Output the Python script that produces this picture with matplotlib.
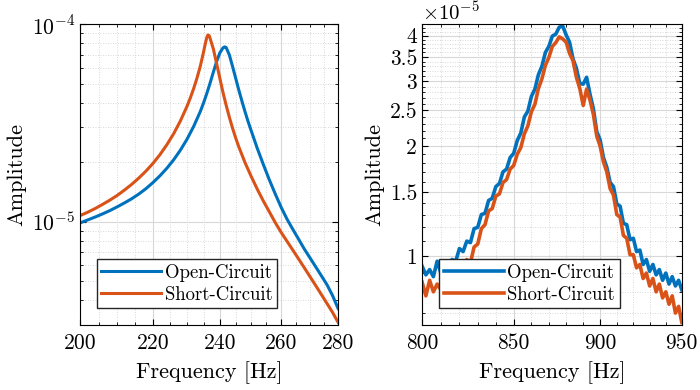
import numpy as np
import matplotlib
matplotlib.use('Agg')
import matplotlib.pyplot as plt
from matplotlib.ticker import FixedLocator, FuncFormatter, NullFormatter

plt.rcParams['font.family'] = 'serif'
plt.rcParams['font.serif'] = ['cmr10']
plt.rcParams['mathtext.fontset'] = 'cm'
plt.rcParams['axes.formatter.use_mathtext'] = True

# Left: first mode, log10(amplitude) vs frequency
freq_oc_1 = [200, 202, 204, 206, 208, 210, 212, 214, 216, 218, 220, 222, 224, 226, 228, 230,
             232, 234, 235, 236, 237, 238, 239, 240, 241, 241.5, 242, 243, 244, 245, 246, 247,
             248, 249, 250, 252, 254, 256, 258, 260, 262, 264, 266, 268, 270, 272, 274, 276,
             278, 280]
log_amp_oc_1 = [-5.007, -4.992, -4.977, -4.961, -4.944, -4.925, -4.905, -4.884, -4.860, -4.833,
                -4.802, -4.768, -4.730, -4.687, -4.638, -4.582, -4.517, -4.442, -4.398, -4.350,
                -4.298, -4.243, -4.190, -4.146, -4.120, -4.115, -4.118, -4.155, -4.212, -4.272,
                -4.332, -4.388, -4.442, -4.492, -4.538, -4.628, -4.710, -4.788, -4.860, -4.928,
                -4.988, -5.040, -5.090, -5.140, -5.185, -5.230, -5.275, -5.320, -5.375, -5.440]
freq_sc_1 = [200, 202, 204, 206, 208, 210, 212, 214, 216, 218, 220, 222, 224, 226, 228, 230,
             231, 232, 233, 234, 235, 235.5, 236, 236.3, 236.7, 237, 238, 239, 240, 241, 242,
             243, 244, 245, 246, 248, 250, 252, 254, 256, 258, 260, 262, 264, 266, 268, 270,
             272, 274, 276, 278, 280]
log_amp_sc_1 = [-4.970, -4.953, -4.934, -4.913, -4.891, -4.867, -4.840, -4.811, -4.779, -4.744,
                -4.705, -4.661, -4.611, -4.555, -4.490, -4.415, -4.372, -4.325, -4.272, -4.212,
                -4.140, -4.100, -4.066, -4.055, -4.058, -4.072, -4.125, -4.198, -4.272, -4.345,
                -4.410, -4.470, -4.525, -4.575, -4.620, -4.700, -4.770, -4.835, -4.895, -4.950,
                -5.005, -5.055, -5.100, -5.145, -5.190, -5.235, -5.280, -5.325, -5.370, -5.415,
                -5.460, -5.510]

# Right: second mode (values in units of 1e-5)
freq_2 = list(range(800, 951, 2))
amp_oc_2 = [0.94, 0.89, 0.92, 0.88, 0.97, 0.90, 0.94, 0.92, 0.98, 0.97, 1.05, 1.03, 1.10, 1.09,
            1.19, 1.20, 1.30, 1.31, 1.42, 1.44, 1.55, 1.58, 1.70, 1.73, 1.86, 1.91, 2.07, 2.17,
            2.40, 2.49, 2.73, 2.86, 3.13, 3.30, 3.60, 3.74, 3.99, 4.04, 4.22, 4.25, 4.02, 3.84,
            3.46, 3.26, 2.96, 2.95, 3.08, 2.77, 2.53, 2.19, 2.08, 1.86, 1.75, 1.59, 1.55, 1.39,
            1.37, 1.23, 1.22, 1.11, 1.12, 1.03, 1.04, 0.95, 0.98, 0.91, 0.95, 0.89, 0.92, 0.86,
            0.90, 0.84, 0.88, 0.83, 0.86, 0.81]
amp_sc_2 = [0.85, 0.78, 0.86, 0.80, 0.84, 0.81, 0.86, 0.83, 0.90, 0.87, 0.94, 0.92, 0.98, 0.96,
            1.06, 1.08, 1.19, 1.22, 1.33, 1.35, 1.46, 1.48, 1.59, 1.62, 1.73, 1.77, 1.90, 1.98,
            2.16, 2.27, 2.48, 2.60, 2.87, 3.05, 3.32, 3.49, 3.74, 3.83, 3.97, 3.92, 3.84, 3.58,
            3.42, 3.08, 2.87, 2.58, 2.86, 2.67, 2.44, 2.13, 2.00, 1.81, 1.70, 1.53, 1.47, 1.30,
            1.28, 1.14, 1.12, 1.01, 1.01, 0.93, 0.95, 0.87, 0.90, 0.83, 0.87, 0.80, 0.84, 0.77,
            0.80, 0.74, 0.78, 0.70, 0.73, 0.66]

blue = '#0072BD'
orange = '#D95319'

fig = plt.figure(figsize=(7, 3.9), dpi=100)
ax1 = fig.add_axes([0.114, 0.167, 0.369, 0.771])
ax2 = fig.add_axes([0.603, 0.167, 0.371, 0.771])


def style(ax):
    ax.tick_params(which='both', direction='in', top=True, right=True, labelsize=15.5)
    ax.tick_params(which='major', length=4)
    ax.tick_params(which='minor', length=2)
    ax.tick_params(axis='x', which='major', pad=6)
    ax.grid(which='major', color='#d8d8d8', lw=0.8)
    ax.grid(which='minor', color='#cccccc', lw=0.6, ls=(0, (1, 2)))
    ax.set_axisbelow(True)
    for s in ax.spines.values():
        s.set_linewidth(0.8)


def add_legend(ax, x0):
    ax.legend(loc='lower left', bbox_to_anchor=(x0, 0.055), fontsize=13.5, fancybox=False,
              edgecolor='#262626', framealpha=1, handlelength=3.2, borderpad=0.25,
              labelspacing=0.2, handletextpad=0.2, borderaxespad=0)


ax1.plot(freq_oc_1, 10 ** np.array(log_amp_oc_1), color=blue, lw=2.2, label='Open-Circuit')
ax1.plot(freq_sc_1, 10 ** np.array(log_amp_sc_1), color=orange, lw=2.2, label='Short-Circuit')
ax1.set_xscale('log')
ax1.set_yscale('log')
ax1.set_xlim(200, 280)
ax1.set_ylim(3e-6, 1e-4)
ax1.xaxis.set_major_locator(FixedLocator([200, 220, 240, 260, 280]))
ax1.xaxis.set_major_formatter(FuncFormatter(lambda v, p: '%d' % v))
ax1.xaxis.set_minor_locator(FixedLocator(np.arange(205, 280, 5)))
ax1.xaxis.set_minor_formatter(NullFormatter())
ax1.yaxis.set_major_locator(FixedLocator([1e-5, 1e-4]))
ax1.yaxis.set_major_formatter(FuncFormatter(lambda v, p: r'$10^{%d}$' % round(np.log10(v))))
ax1.yaxis.set_minor_locator(FixedLocator([k * 1e-6 for k in range(3, 10)] + [k * 1e-5 for k in range(2, 10)]))
ax1.yaxis.set_minor_formatter(NullFormatter())
style(ax1)
ax1.set_xlabel('Frequency [Hz]', fontsize=16, labelpad=6)
ax1.set_ylabel('Amplitude', fontsize=16)
add_legend(ax1, 0.065)

ax2.plot(freq_2, np.array(amp_oc_2) * 1e-5, color=blue, lw=2.6, label='Open-Circuit')
ax2.plot(freq_2, np.array(amp_sc_2) * 1e-5, color=orange, lw=2.6, label='Short-Circuit')
ax2.set_xscale('log')
ax2.set_yscale('log')
ax2.set_xlim(800, 950)
ax2.set_ylim(0.65e-5, 4.3e-5)
ax2.xaxis.set_major_locator(FixedLocator([800, 850, 900, 950]))
ax2.xaxis.set_major_formatter(FuncFormatter(lambda v, p: '%d' % v))
ax2.xaxis.set_minor_locator(FixedLocator(np.arange(810, 950, 10)))
ax2.xaxis.set_minor_formatter(NullFormatter())
ax2.yaxis.set_major_locator(FixedLocator([k * 1e-5 for k in [1, 1.5, 2, 2.5, 3, 3.5, 4]]))
ax2.yaxis.set_major_formatter(FuncFormatter(lambda v, p: '%g' % round(v / 1e-5, 2)))
ax2.yaxis.set_minor_locator(FixedLocator([k / 10 * 1e-5 for k in range(7, 43)]))
ax2.yaxis.set_minor_formatter(NullFormatter())
style(ax2)
ax2.set_xlabel('Frequency [Hz]', fontsize=16, labelpad=6)
ax2.set_ylabel('Amplitude', fontsize=16)
ax2.text(0.0, 1.0, r'$\times 10^{-5}$', transform=ax2.transAxes, fontsize=15,
         ha='left', va='bottom')
add_legend(ax2, 0.065)

fig.savefig('out.png', dpi=100)
